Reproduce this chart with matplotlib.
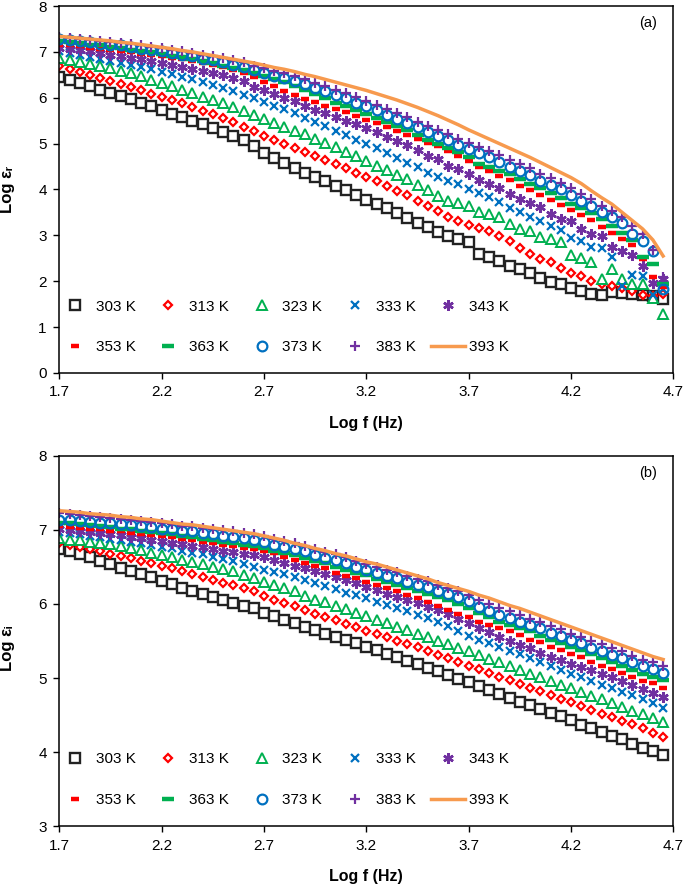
import matplotlib
matplotlib.use("Agg")
import matplotlib.pyplot as plt

plt.rcParams['font.family'] = ['Liberation Sans', 'DejaVu Sans']

# log of frequency (Hz)
log_f = [1.70, 1.75, 1.80, 1.85, 1.90, 1.95, 2.00, 2.05, 2.10, 2.15,
         2.20, 2.25, 2.30, 2.35, 2.40, 2.45, 2.50, 2.55, 2.60, 2.65,
         2.70, 2.75, 2.80, 2.85, 2.90, 2.95, 3.00, 3.05, 3.10, 3.15,
         3.20, 3.25, 3.30, 3.35, 3.40, 3.45, 3.50, 3.55, 3.60, 3.65,
         3.70, 3.75, 3.80, 3.85, 3.90, 3.95, 4.00, 4.05, 4.10, 4.15,
         4.20, 4.25, 4.30, 4.35, 4.40, 4.45, 4.50, 4.55, 4.60, 4.65]

temps = ['303 K', '313 K', '323 K', '333 K', '343 K',
         '353 K', '363 K', '373 K', '383 K', '393 K']

# (a) Log eps_r
a303 = [6.45, 6.38, 6.32, 6.25, 6.17, 6.11, 6.04, 5.97, 5.88, 5.81,
        5.73, 5.65, 5.58, 5.50, 5.43, 5.35, 5.26, 5.17, 5.07, 4.95,
        4.80, 4.68, 4.57, 4.47, 4.36, 4.27, 4.18, 4.08, 3.98, 3.89,
        3.78, 3.68, 3.59, 3.48, 3.38, 3.28, 3.18, 3.08, 2.98, 2.92,
        2.86, 2.60, 2.52, 2.45, 2.34, 2.26, 2.17, 2.08, 1.99, 1.93,
        1.86, 1.79, 1.73, 1.70, 1.77, 1.75, 1.72, 1.70, 1.68, 1.61]
a313 = [6.70, 6.63, 6.57, 6.50, 6.43, 6.36, 6.29, 6.23, 6.16, 6.09,
        6.01, 5.95, 5.88, 5.79, 5.72, 5.65, 5.56, 5.47, 5.37, 5.27,
        5.17, 5.08, 4.99, 4.90, 4.82, 4.73, 4.64, 4.55, 4.47, 4.37,
        4.27, 4.18, 4.07, 3.97, 3.87, 3.76, 3.65, 3.53, 3.41, 3.31,
        3.23, 3.16, 3.10, 2.99, 2.88, 2.72, 2.59, 2.48, 2.41, 2.28,
        2.19, 2.12, 2.01, 1.93, 1.90, 1.86, 1.79, 1.70, 1.68, 1.72]
a323 = [6.87, 6.82, 6.79, 6.73, 6.69, 6.65, 6.58, 6.54, 6.47, 6.38,
        6.32, 6.26, 6.17, 6.10, 6.01, 5.95, 5.88, 5.80, 5.72, 5.62,
        5.53, 5.45, 5.37, 5.28, 5.20, 5.11, 5.01, 4.92, 4.82, 4.73,
        4.63, 4.52, 4.42, 4.32, 4.22, 4.10, 3.99, 3.86, 3.76, 3.70,
        3.64, 3.50, 3.47, 3.39, 3.25, 3.14, 3.10, 2.97, 2.92, 2.85,
        2.58, 2.50, 2.43, 2.04, 2.26, 2.04, 1.93, 1.95, 1.64, 1.28]
a333 = [7.01, 6.97, 6.93, 6.89, 6.85, 6.80, 6.76, 6.72, 6.67, 6.62,
        6.57, 6.52, 6.46, 6.40, 6.35, 6.28, 6.21, 6.14, 6.07, 5.99,
        5.91, 5.83, 5.75, 5.66, 5.56, 5.47, 5.38, 5.28, 5.18, 5.08,
        4.99, 4.90, 4.79, 4.68, 4.58, 4.48, 4.36, 4.27, 4.18, 4.12,
        4.02, 3.92, 3.83, 3.72, 3.60, 3.50, 3.39, 3.31, 3.21, 3.12,
        2.94, 2.87, 2.74, 2.72, 2.52, 1.90, 2.14, 2.12, 1.71, 1.82]
a343 = [7.09, 7.07, 7.04, 7.01, 6.98, 6.94, 6.92, 6.87, 6.84, 6.80,
        6.76, 6.72, 6.68, 6.63, 6.58, 6.54, 6.49, 6.43, 6.36, 6.24,
        6.16, 6.08, 6.00, 5.92, 5.83, 5.74, 5.66, 5.58, 5.50, 5.42,
        5.33, 5.25, 5.14, 5.06, 4.96, 4.86, 4.74, 4.66, 4.52, 4.44,
        4.33, 4.21, 4.13, 4.04, 3.91, 3.80, 3.70, 3.61, 3.47, 3.36,
        3.31, 3.14, 3.03, 2.99, 2.75, 2.65, 2.58, 2.34, 1.97, 2.04]
a353 = [7.16, 7.14, 7.12, 7.09, 7.07, 7.04, 7.01, 6.99, 6.96, 6.93,
        6.90, 6.87, 6.84, 6.80, 6.76, 6.72, 6.67, 6.61, 6.54, 6.45,
        6.35, 6.25, 6.15, 6.06, 5.98, 5.90, 5.83, 5.76, 5.69, 5.60,
        5.52, 5.44, 5.36, 5.27, 5.19, 5.10, 5.02, 4.94, 4.85, 4.74,
        4.62, 4.48, 4.40, 4.30, 4.20, 4.08, 3.98, 3.88, 3.78, 3.66,
        3.56, 3.44, 3.33, 3.18, 3.06, 2.93, 2.78, 2.48, 2.10, 1.88]
a363 = [7.23, 7.21, 7.19, 7.16, 7.14, 7.11, 7.08, 7.05, 7.02, 6.99,
        6.96, 6.92, 6.88, 6.84, 6.80, 6.75, 6.70, 6.65, 6.60, 6.54,
        6.48, 6.42, 6.35, 6.26, 6.18, 6.08, 5.99, 5.89, 5.81, 5.73,
        5.65, 5.56, 5.47, 5.38, 5.29, 5.19, 5.09, 5.00, 4.91, 4.82,
        4.70, 4.56, 4.48, 4.40, 4.33, 4.22, 4.13, 4.04, 3.92, 3.81,
        3.69, 3.59, 3.48, 3.35, 3.20, 3.05, 2.89, 2.52, 2.37, 1.93]
a373 = [7.29, 7.26, 7.23, 7.21, 7.18, 7.16, 7.14, 7.11, 7.07, 7.04,
        7.01, 6.98, 6.94, 6.90, 6.85, 6.82, 6.77, 6.72, 6.67, 6.60,
        6.54, 6.48, 6.43, 6.37, 6.29, 6.21, 6.14, 6.06, 5.99, 5.89,
        5.81, 5.73, 5.63, 5.54, 5.44, 5.36, 5.26, 5.16, 5.08, 4.97,
        4.88, 4.79, 4.71, 4.60, 4.50, 4.40, 4.31, 4.18, 4.09, 4.00,
        3.89, 3.76, 3.65, 3.50, 3.39, 3.26, 3.04, 2.88, 2.66, 1.82]
a383 = [7.33, 7.31, 7.29, 7.27, 7.24, 7.22, 7.20, 7.17, 7.14, 7.11,
        7.08, 7.05, 7.02, 6.98, 6.94, 6.91, 6.86, 6.82, 6.77, 6.70,
        6.65, 6.59, 6.54, 6.48, 6.40, 6.33, 6.26, 6.18, 6.11, 6.01,
        5.93, 5.85, 5.75, 5.66, 5.57, 5.48, 5.39, 5.29, 5.21, 5.10,
        5.01, 4.93, 4.85, 4.75, 4.65, 4.55, 4.46, 4.33, 4.24, 4.15,
        4.04, 3.91, 3.80, 3.65, 3.54, 3.41, 3.20, 3.03, 2.68, 2.09]
a393 = [7.34, 7.32, 7.30, 7.28, 7.26, 7.24, 7.21, 7.19, 7.16, 7.13,
        7.10, 7.07, 7.03, 7.00, 6.96, 6.92, 6.88, 6.84, 6.80, 6.76,
        6.71, 6.66, 6.62, 6.57, 6.51, 6.46, 6.40, 6.34, 6.28, 6.22,
        6.16, 6.09, 6.02, 5.95, 5.87, 5.79, 5.70, 5.61, 5.51, 5.41,
        5.30, 5.20, 5.10, 5.00, 4.90, 4.80, 4.70, 4.59, 4.48, 4.37,
        4.26, 4.13, 3.97, 3.82, 3.68, 3.50, 3.32, 3.14, 2.90, 2.55]

# (b) Log eps_i
b303 = [6.74, 6.71, 6.67, 6.63, 6.58, 6.54, 6.49, 6.45, 6.40, 6.36,
        6.31, 6.27, 6.22, 6.18, 6.13, 6.09, 6.05, 6.01, 5.97, 5.94,
        5.88, 5.84, 5.79, 5.75, 5.69, 5.65, 5.60, 5.56, 5.51, 5.47,
        5.42, 5.38, 5.32, 5.28, 5.23, 5.19, 5.14, 5.09, 5.04, 4.99,
        4.94, 4.89, 4.84, 4.78, 4.73, 4.68, 4.63, 4.58, 4.53, 4.48,
        4.43, 4.37, 4.32, 4.27, 4.22, 4.17, 4.11, 4.06, 4.01, 3.96]
b313 = [6.82, 6.80, 6.77, 6.74, 6.71, 6.68, 6.65, 6.62, 6.58, 6.55,
        6.51, 6.48, 6.44, 6.40, 6.36, 6.32, 6.28, 6.25, 6.21, 6.17,
        6.11, 6.06, 6.01, 5.97, 5.92, 5.87, 5.83, 5.78, 5.73, 5.69,
        5.64, 5.60, 5.55, 5.50, 5.46, 5.42, 5.36, 5.31, 5.27, 5.22,
        5.16, 5.12, 5.07, 5.02, 4.97, 4.92, 4.87, 4.82, 4.77, 4.72,
        4.67, 4.62, 4.57, 4.52, 4.47, 4.42, 4.38, 4.32, 4.26, 4.20]
b323 = [6.89, 6.87, 6.86, 6.84, 6.82, 6.81, 6.78, 6.75, 6.73, 6.69,
        6.66, 6.64, 6.59, 6.57, 6.54, 6.50, 6.47, 6.44, 6.39, 6.35,
        6.30, 6.26, 6.21, 6.17, 6.11, 6.06, 6.03, 5.97, 5.93, 5.88,
        5.84, 5.78, 5.74, 5.69, 5.65, 5.59, 5.55, 5.50, 5.46, 5.41,
        5.36, 5.31, 5.26, 5.21, 5.16, 5.11, 5.06, 5.01, 4.96, 4.91,
        4.86, 4.81, 4.76, 4.71, 4.66, 4.61, 4.56, 4.51, 4.46, 4.40]
b333 = [6.97, 6.96, 6.94, 6.92, 6.90, 6.88, 6.86, 6.84, 6.82, 6.80,
        6.77, 6.75, 6.72, 6.69, 6.67, 6.64, 6.61, 6.58, 6.54, 6.50,
        6.46, 6.43, 6.40, 6.36, 6.32, 6.28, 6.24, 6.20, 6.15, 6.12,
        6.08, 6.03, 5.99, 5.94, 5.90, 5.85, 5.81, 5.76, 5.70, 5.64,
        5.57, 5.52, 5.47, 5.42, 5.37, 5.32, 5.27, 5.22, 5.16, 5.11,
        5.06, 5.02, 4.96, 4.91, 4.86, 4.81, 4.77, 4.71, 4.66, 4.60]
b343 = [7.01, 7.00, 6.99, 6.97, 6.96, 6.94, 6.93, 6.91, 6.89, 6.87,
        6.85, 6.83, 6.81, 6.79, 6.77, 6.74, 6.72, 6.70, 6.68, 6.66,
        6.63, 6.59, 6.55, 6.51, 6.48, 6.44, 6.41, 6.36, 6.32, 6.28,
        6.23, 6.19, 6.14, 6.10, 6.05, 6.01, 5.96, 5.92, 5.86, 5.80,
        5.74, 5.68, 5.62, 5.56, 5.50, 5.45, 5.40, 5.34, 5.29, 5.24,
        5.19, 5.15, 5.11, 5.06, 5.02, 4.96, 4.91, 4.85, 4.80, 4.75]
b353 = [7.05, 7.04, 7.03, 7.02, 7.01, 6.99, 6.98, 6.96, 6.95, 6.93,
        6.92, 6.90, 6.88, 6.86, 6.84, 6.82, 6.80, 6.78, 6.76, 6.74,
        6.72, 6.69, 6.64, 6.59, 6.55, 6.51, 6.48, 6.42, 6.38, 6.35,
        6.30, 6.26, 6.21, 6.17, 6.12, 6.08, 6.03, 5.97, 5.92, 5.87,
        5.82, 5.76, 5.71, 5.67, 5.63, 5.58, 5.52, 5.48, 5.42, 5.38,
        5.32, 5.28, 5.22, 5.16, 5.12, 5.07, 5.02, 4.96, 4.93, 4.87]
b363 = [7.10, 7.09, 7.08, 7.07, 7.05, 7.04, 7.02, 7.01, 6.99, 6.97,
        6.96, 6.94, 6.92, 6.90, 6.88, 6.86, 6.84, 6.82, 6.80, 6.78,
        6.75, 6.72, 6.69, 6.66, 6.62, 6.58, 6.55, 6.50, 6.46, 6.42,
        6.39, 6.34, 6.30, 6.26, 6.21, 6.18, 6.14, 6.09, 6.05, 6.00,
        5.94, 5.88, 5.82, 5.76, 5.71, 5.67, 5.63, 5.57, 5.52, 5.47,
        5.42, 5.38, 5.32, 5.27, 5.22, 5.16, 5.11, 5.06, 5.02, 4.97]
b373 = [7.14, 7.13, 7.12, 7.11, 7.10, 7.09, 7.08, 7.07, 7.05, 7.04,
        7.02, 7.01, 6.99, 6.98, 6.96, 6.94, 6.92, 6.91, 6.89, 6.87,
        6.84, 6.80, 6.77, 6.74, 6.71, 6.66, 6.62, 6.59, 6.55, 6.50,
        6.46, 6.42, 6.38, 6.35, 6.30, 6.26, 6.23, 6.18, 6.14, 6.10,
        6.04, 5.96, 5.91, 5.85, 5.81, 5.76, 5.71, 5.67, 5.61, 5.57,
        5.51, 5.47, 5.41, 5.37, 5.31, 5.27, 5.21, 5.16, 5.12, 5.07]
b383 = [7.23, 7.21, 7.20, 7.19, 7.18, 7.16, 7.15, 7.14, 7.12, 7.11,
        7.09, 7.08, 7.06, 7.05, 7.03, 7.01, 7.00, 6.98, 6.96, 6.95,
        6.92, 6.88, 6.85, 6.82, 6.79, 6.74, 6.70, 6.67, 6.63, 6.58,
        6.54, 6.50, 6.46, 6.43, 6.38, 6.34, 6.31, 6.26, 6.22, 6.18,
        6.12, 6.05, 6.00, 5.94, 5.90, 5.85, 5.80, 5.76, 5.70, 5.66,
        5.60, 5.56, 5.50, 5.46, 5.40, 5.36, 5.30, 5.25, 5.21, 5.16]
b393 = [7.26, 7.25, 7.24, 7.22, 7.21, 7.20, 7.18, 7.17, 7.15, 7.14,
        7.12, 7.10, 7.08, 7.07, 7.05, 7.03, 7.01, 6.99, 6.97, 6.95,
        6.92, 6.89, 6.86, 6.82, 6.79, 6.75, 6.72, 6.68, 6.65, 6.61,
        6.57, 6.54, 6.50, 6.46, 6.42, 6.38, 6.34, 6.29, 6.25, 6.21,
        6.17, 6.12, 6.08, 6.03, 5.98, 5.94, 5.89, 5.84, 5.79, 5.74,
        5.69, 5.64, 5.59, 5.54, 5.49, 5.44, 5.39, 5.34, 5.29, 5.25]

panel_a = [a303, a313, a323, a333, a343, a353, a363, a373, a383, a393]
panel_b = [b303, b313, b323, b333, b343, b353, b363, b373, b383, b393]

# Excel-like marker styles for each temperature
styles = [
    dict(marker='s', ms=6.6, mfc='white', mec='#222222', mew=1.7, ls='none'),
    dict(marker='D', ms=4.0, mfc='white', mec='#FF0000', mew=1.6, ls='none'),
    dict(marker='^', ms=6.5, mfc='white', mec='#00B050', mew=1.4, ls='none'),
    dict(marker='x', ms=6.0, mec='#0070C0', mew=1.6, ls='none'),
    dict(marker=(6, 2, 0), ms=7.5, mec='#7030A0', mew=1.8, ls='none'),
    dict(marker='_', ms=5.5, mec='#FF0000', mew=3.2, ls='none'),
    dict(marker='_', ms=8.5, mec='#00B050', mew=3.2, ls='none'),
    dict(marker='o', ms=7.0, mfc='none', mec='#0070C0', mew=1.6, ls='none'),
    dict(marker='+', ms=7.5, mec='#7030A0', mew=1.6, ls='none'),
    dict(color='#F79A4E', lw=2.5, ls='-'),
]

fig = plt.figure(figsize=(6.85, 8.88), dpi=100)
ax_a = fig.add_axes([0.0866, 0.5800, 0.8964, 0.4132])
ax_b = fig.add_axes([0.0866, 0.0698, 0.8964, 0.4167])


def draw(ax, series, ylabel, ylim, tag, ylab_y):
    handles = []
    for vals, lab, st in zip(series, temps, styles):
        h, = ax.plot(log_f, vals, label=lab, **st)
        handles.append(h)
    ax.set_xlim(1.7, 4.7)
    ax.set_ylim(*ylim)
    ax.set_xticks([1.7, 2.2, 2.7, 3.2, 3.7, 4.2, 4.7])
    ax.set_yticks(range(ylim[0], ylim[1] + 1))
    ax.tick_params(direction='out', length=4, width=1, labelsize=11,
                   top=False, right=False, pad=5)
    for sp in ax.spines.values():
        sp.set_linewidth(1.1)
    ax.set_xlabel('Log f (Hz)', fontsize=11.5, fontweight='bold', labelpad=12)
    ax.set_ylabel(ylabel, fontsize=12, fontweight='bold')
    ax.yaxis.set_label_coords(-0.072, ylab_y)
    ax.text(0.958, 0.955, tag, transform=ax.transAxes, fontsize=10.5,
            ha='center', va='center')
    # legend filled row by row: 5 columns, 2 rows
    order = [0, 5, 1, 6, 2, 7, 3, 8, 4, 9]
    ax.legend([handles[i] for i in order], [temps[i] for i in order],
              ncol=5, loc='center left', bbox_to_anchor=(-0.002, 0.125),
              frameon=False, fontsize=11, borderaxespad=0, borderpad=0,
              handlelength=2.2, handletextpad=0.25, columnspacing=1.05,
              labelspacing=1.75, numpoints=1)


draw(ax_a, panel_a, 'Log εᵣ', (0, 8), '(a)', 0.5)
draw(ax_b, panel_b, 'Log εᵢ', (3, 8), '(b)', 0.48)

fig.savefig('out.png', dpi=100)
